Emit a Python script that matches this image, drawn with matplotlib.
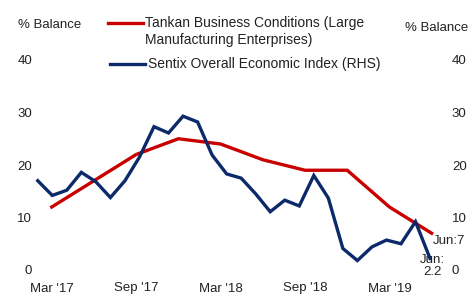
import matplotlib
matplotlib.use('Agg')
import matplotlib.pyplot as plt
from matplotlib.lines import Line2D

plt.rcParams['font.family'] = ['Liberation Sans', 'DejaVu Sans']

# data
# Tankan, quarterly, Mar '17 .. Jun '19 (months since Mar '17)
tankan_months = [0, 3, 6, 9, 12, 15, 18, 21, 24, 27]
tankan = [12, 17, 22, 25, 24, 21, 19, 19, 12, 7]
# Sentix, monthly, 28 observations (own category axis, RHS)
sentix = [17.0, 14.2, 15.2, 18.6, 16.8, 13.8, 17.0, 21.5, 27.3, 26.1,
          29.3, 28.2, 21.9, 18.3, 17.5, 14.5, 11.1, 13.3, 12.2, 18.0,
          13.7, 4.1, 1.8, 4.4, 5.7, 5.0, 9.2, 2.2]
tick_months = [0, 6, 12, 18, 24]
tick_labels = ["Mar '17", "Sep '17", "Mar '18", "Sep '18", "Mar '19"]

red = '#C80000'
navy = '#0C2A6A'
grey = '#222222'
W, H = 471, 294

fig = plt.figure(figsize=(W / 100, H / 100), dpi=100, facecolor='white')
pos = [35 / W, (H - 270) / H, 410 / W, 210 / H]

ax = fig.add_axes(pos)
ax.plot(tankan_months, tankan, color=red, lw=2.4, solid_joinstyle='miter', clip_on=False)
ax.set_xlim(-1.19, 27.95)
ax.set_ylim(0, 40)
ax.set_yticks([0, 10, 20, 30, 40])
ax.set_xticks(tick_months)
ax.set_xticklabels(tick_labels)
ax.tick_params(length=0, labelsize=9.5, colors=grey)
ax.tick_params(axis='y', pad=2)
ax.tick_params(axis='x', pad=9)
for s in ax.spines.values():
    s.set_visible(False)

# second axes for the monthly series
ax2 = fig.add_axes(pos, frameon=False)
ax2.plot(range(len(sentix)), sentix, color=navy, lw=2.4, solid_joinstyle='miter', clip_on=False)
ax2.set_xlim(-0.19, 28.03)
ax2.set_ylim(0, 40)
ax2.set_xticks([])
ax2.yaxis.tick_right()
ax2.set_yticks([0, 10, 20, 30, 40])
ax2.tick_params(length=0, labelsize=9.5, colors=grey, pad=5)
ax2.patch.set_visible(False)

# end labels
ax.annotate('Jun:7', (tankan_months[-1], tankan[-1]), xytext=(1, -1),
            textcoords='offset points', ha='left', va='top', fontsize=9.5, color=grey)
ax2.annotate('Jun:\n2.2', (len(sentix) - 1, sentix[-1]), xytext=(-7, 3.5),
             textcoords='offset points', ha='left', va='top', fontsize=9.5,
             color=grey, linespacing=1.1, multialignment='center')

# axis titles
fig.text(18 / W, 1 - 25 / H, '% Balance', fontsize=9.5, color=grey, va='center')
fig.text(405 / W, 1 - 28 / H, '% Balance', fontsize=9.5, color=grey, va='center')

# legend (Excel style: marker aligned with first text line)
fig.add_artist(Line2D([108 / W, 143 / W], [1 - 23 / H] * 2, color=red, lw=2.4))
fig.text(145 / W, 1 - 23 / H, 'Tankan Business Conditions (Large', fontsize=10,
         color=grey, va='center')
fig.text(145 / W, 1 - 40 / H, 'Manufacturing Enterprises)', fontsize=10,
         color=grey, va='center')
fig.add_artist(Line2D([110 / W, 145 / W], [1 - 64 / H] * 2, color=navy, lw=2.4))
fig.text(148 / W, 1 - 64 / H, 'Sentix Overall Economic Index (RHS)', fontsize=10,
         color=grey, va='center')

fig.savefig('out.png', dpi=100)
